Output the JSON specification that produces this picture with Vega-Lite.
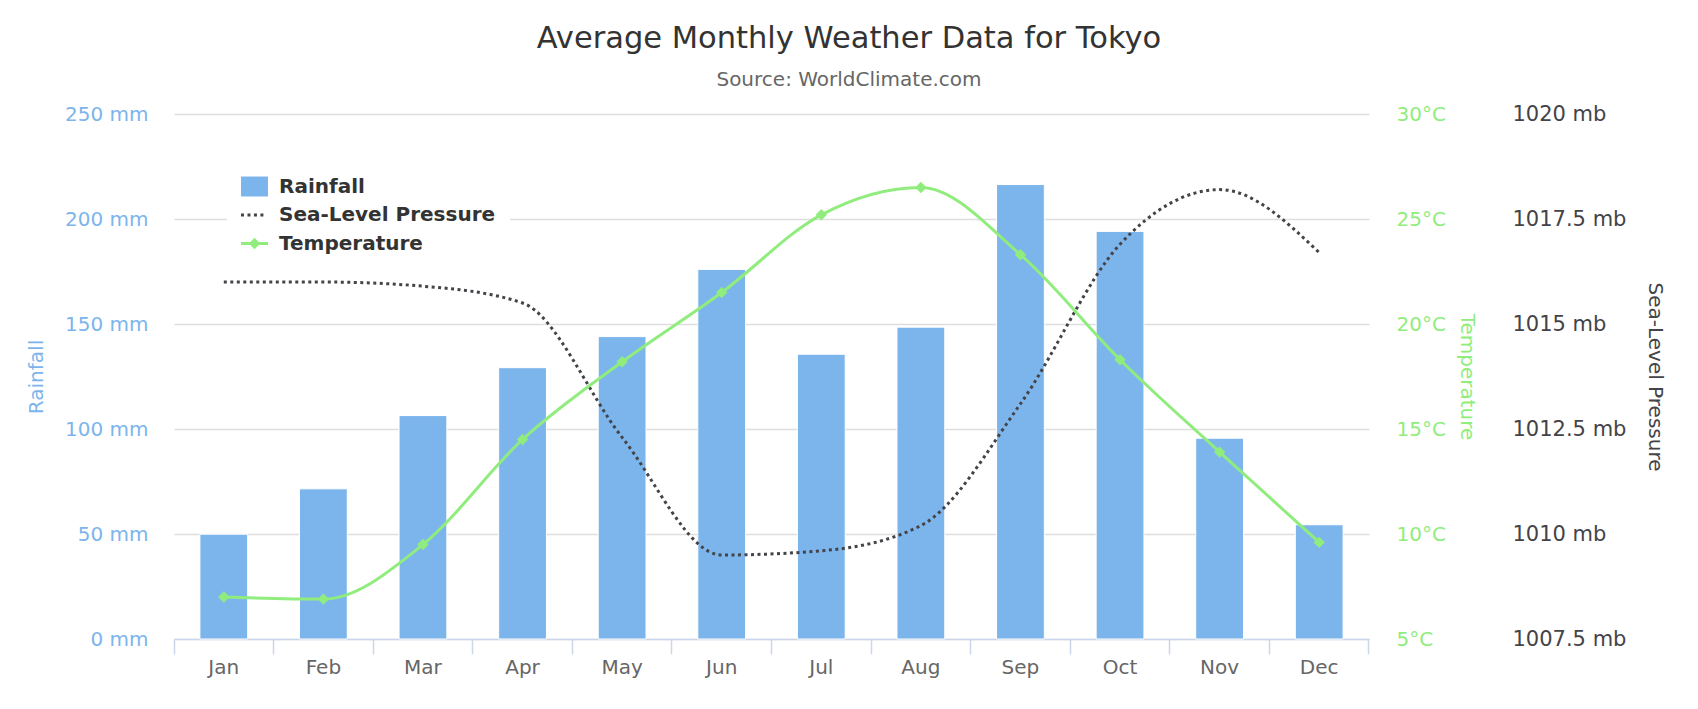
{
  "$schema": "https://vega.github.io/schema/vega-lite/v6.json",
  "width": 1195,
  "height": 525,
  "autosize": {"type": "none"},
  "padding": {"left": 174, "top": 114, "right": 329, "bottom": 70},
  "background": "white",
  "config": {"font": "DejaVu Sans", "view": {"stroke": null}},
  "title": {
    "text": "Average Monthly Weather Data for Tokyo",
    "subtitle": "Source: WorldClimate.com",
    "font": "DejaVu Sans",
    "fontSize": 30.5,
    "fontWeight": "normal",
    "color": "#333333",
    "subtitleFont": "DejaVu Sans",
    "subtitleFontSize": 20,
    "subtitleColor": "#666666",
    "subtitlePadding": 16,
    "frame": "group",
    "anchor": "middle",
    "dx": 77.5,
    "offset": 13
  },
  "data": {
    "values": [
      {"month": "Jan", "rainfall": 49.9, "temperature": 7.0, "pressure": 1016.0},
      {"month": "Feb", "rainfall": 71.5, "temperature": 6.9, "pressure": 1016.0},
      {"month": "Mar", "rainfall": 106.4, "temperature": 9.5, "pressure": 1015.9},
      {"month": "Apr", "rainfall": 129.2, "temperature": 14.5, "pressure": 1015.5},
      {"month": "May", "rainfall": 144.0, "temperature": 18.2, "pressure": 1012.3},
      {"month": "Jun", "rainfall": 176.0, "temperature": 21.5, "pressure": 1009.5},
      {"month": "Jul", "rainfall": 135.6, "temperature": 25.2, "pressure": 1009.6},
      {"month": "Aug", "rainfall": 148.5, "temperature": 26.5, "pressure": 1010.2},
      {"month": "Sep", "rainfall": 216.4, "temperature": 23.3, "pressure": 1013.1},
      {"month": "Oct", "rainfall": 194.1, "temperature": 18.3, "pressure": 1016.9},
      {"month": "Nov", "rainfall": 95.6, "temperature": 13.9, "pressure": 1018.2},
      {"month": "Dec", "rainfall": 54.4, "temperature": 9.6, "pressure": 1016.7}
    ]
  },
  "layer": [
    {
      "mark": {"type": "bar", "color": "#7cb5ec", "stroke": "white", "strokeWidth": 1, "width": {"band": 0.48}},
      "encoding": {
        "x": {
          "field": "month", "type": "nominal", "sort": null,
          "scale": {"paddingInner": 0, "paddingOuter": 0},
          "axis": {
            "orient": "bottom",
            "title": null, "labels": false, "grid": false,
            "bandPosition": 1, "tickExtra": true,
            "domain": true, "domainColor": "#ccd6eb", "domainWidth": 1.5,
            "ticks": true, "tickColor": "#ccd6eb", "tickWidth": 1.5, "tickSize": 15
          }
        },
        "y": {
          "field": "rainfall", "type": "quantitative",
          "scale": {"domain": [0, 250], "nice": false},
          "axis": {
            "orient": "left",
            "values": [0, 50, 100, 150, 200, 250],
            "labelExpr": "datum.value + ' mm'",
            "labelFont": "DejaVu Sans", "labelFontSize": 20, "labelColor": "#7cb5ec",
            "labelPadding": 26, "labelBaseline": "middle",
            "ticks": false, "tickSize": 0, "domain": false,
            "grid": true, "gridColor": "#dedede", "gridWidth": 1.5,
            "title": "Rainfall", "titleColor": "#7cb5ec", "titleFont": "DejaVu Sans",
            "titleFontSize": 20, "titleFontWeight": "normal",
            "titleAngle": 270, "titleX": -138, "titleY": 262.5,
            "titleAlign": "center", "titleBaseline": "middle"
          }
        }
      }
    },
    {
      "mark": {"type": "line", "interpolate": "monotone", "color": "#434348", "strokeWidth": 3, "strokeDash": [3, 3.5], "strokeCap": "butt"},
      "encoding": {
        "x": {
          "field": "month", "type": "nominal", "sort": null,
          "axis": {
            "orient": "bottom",
            "title": null, "domain": false, "ticks": false, "grid": false,
            "labelFont": "DejaVu Sans", "labelFontSize": 20, "labelColor": "#666666",
            "labelPadding": 18, "labelAngle": 0
          }
        },
        "y": {
          "field": "pressure", "type": "quantitative",
          "scale": {"domain": [1007.5, 1020], "nice": false, "zero": false},
          "axis": {
            "orient": "right", "offset": 140,
            "values": [1007.5, 1010, 1012.5, 1015, 1017.5, 1020],
            "labelExpr": "datum.value + ' mb'",
            "labelFont": "DejaVu Sans", "labelFontSize": 21, "labelColor": "#434348",
            "labelPadding": 3, "labelBaseline": "middle",
            "ticks": false, "tickSize": 0, "domain": false, "grid": false,
            "title": "Sea-Level Pressure", "titleColor": "#434348", "titleFont": "DejaVu Sans",
            "titleFontSize": 20, "titleFontWeight": "normal",
            "titleAngle": 90, "titleX": 145, "titleY": 262.5,
            "titleAlign": "center", "titleBaseline": "middle"
          }
        }
      }
    },
    {
      "mark": {
        "type": "line", "interpolate": "monotone", "color": "#90ed7d", "strokeWidth": 3,
        "point": {"shape": "diamond", "size": 130, "filled": true, "color": "#90ed7d", "opacity": 1}
      },
      "encoding": {
        "x": {"field": "month", "type": "nominal", "sort": null, "axis": null},
        "y": {
          "field": "temperature", "type": "quantitative",
          "scale": {"domain": [5, 30], "nice": false, "zero": false},
          "axis": {
            "orient": "right",
            "values": [5, 10, 15, 20, 25, 30],
            "labelExpr": "datum.value + '°C'",
            "labelFont": "DejaVu Sans", "labelFontSize": 20, "labelColor": "#90ed7d",
            "labelPadding": 27, "labelBaseline": "middle",
            "ticks": false, "tickSize": 0, "domain": false, "grid": false,
            "title": "Temperature", "titleColor": "#90ed7d", "titleFont": "DejaVu Sans",
            "titleFontSize": 20, "titleFontWeight": "normal",
            "titleAngle": 90, "titleX": 97.5, "titleY": 262.5,
            "titleAlign": "center", "titleBaseline": "middle"
          }
        }
      }
    },
    {
      "data": {"values": [{"series": "Rainfall"}, {"series": "Sea-Level Pressure"}, {"series": "Temperature"}]},
      "mark": {"type": "point", "filled": true, "opacity": 0},
      "encoding": {
        "color": {
          "field": "series", "type": "nominal",
          "scale": {"domain": ["Rainfall", "Sea-Level Pressure", "Temperature"], "range": ["#7cb5ec", "#434348", "#90ed7d"]},
          "legend": {
            "orient": "none", "legendX": 53, "legendY": 45, "title": null,
            "fillColor": "white", "padding": 14,
            "labelFont": "DejaVu Sans", "labelFontSize": 20, "labelFontWeight": "bold", "labelColor": "#333333",
            "labelOffset": 11, "rowPadding": 4.5, "labelLimit": 400,
            "symbolSize": 729, "symbolOpacity": 1, "symbolStrokeWidth": 0
          }
        },
        "shape": {
          "field": "series", "type": "nominal",
          "scale": {
            "domain": ["Rainfall", "Sea-Level Pressure", "Temperature"],
            "range": [
              "M-1,-0.74H1V0.74H-1Z",
              "M-1,-0.11H-0.78V0.11H-1Z M-0.52,-0.11H-0.3V0.11H-0.52Z M-0.04,-0.11H0.18V0.11H-0.04Z M0.44,-0.11H0.66V0.11H0.44Z",
              "M-1,-0.11H1V0.11H-1Z M0,-0.42L0.42,0L0,0.42L-0.42,0Z"
            ]
          },
          "legend": {
            "orient": "none", "legendX": 53, "legendY": 45, "title": null,
            "fillColor": "white", "padding": 14,
            "labelFont": "DejaVu Sans", "labelFontSize": 20, "labelFontWeight": "bold", "labelColor": "#333333",
            "labelOffset": 11, "rowPadding": 4.5, "labelLimit": 400,
            "symbolSize": 729, "symbolOpacity": 1, "symbolStrokeWidth": 0
          }
        }
      }
    }
  ],
  "resolve": {"scale": {"y": "independent"}, "axis": {"x": "independent"}}
}
